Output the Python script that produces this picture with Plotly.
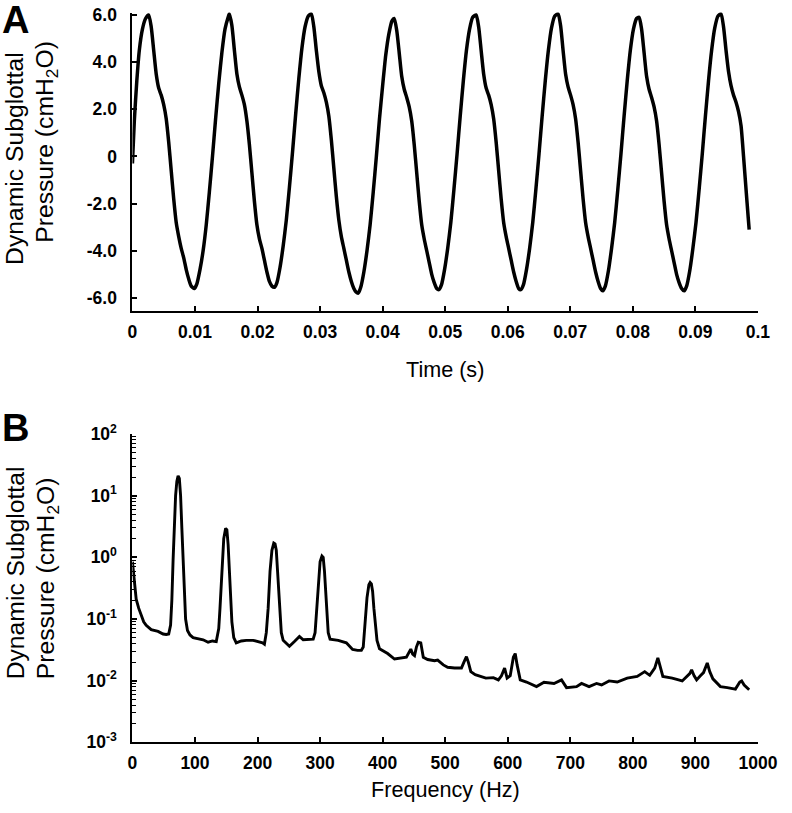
import plotly.graph_objects as go

# ---------------- Panel A: dynamic subglottal pressure vs time ----------------
time_s = [
    0.00000, 0.00030, 0.00070, 0.00110, 0.00160, 0.00210, 0.00260,
    0.00300, 0.00340, 0.00380, 0.00420, 0.00460, 0.00500, 0.00540, 0.00580, 0.00620, 0.00660,
    0.00700, 0.00740, 0.00780, 0.00820, 0.00860, 0.00900, 0.00940, 0.00990,
    0.01030, 0.01080, 0.01130, 0.01180, 0.01230, 0.01280, 0.01330, 0.01380, 0.01430, 0.01480, 0.01530, 0.01550,
    0.01590, 0.01630, 0.01670, 0.01710, 0.01750, 0.01790, 0.01830, 0.01870, 0.01910, 0.01950,
    0.01990, 0.02030, 0.02070, 0.02110, 0.02150, 0.02190, 0.02230, 0.02270,
    0.02310, 0.02360, 0.02410, 0.02460, 0.02510, 0.02560, 0.02610, 0.02660, 0.02710, 0.02760, 0.02810, 0.02860,
    0.02900, 0.02940, 0.02980, 0.03020, 0.03060, 0.03100, 0.03140, 0.03180, 0.03220, 0.03260,
    0.03300, 0.03340, 0.03380, 0.03420, 0.03460, 0.03500, 0.03540, 0.03575, 0.03610,
    0.03650, 0.03700, 0.03750, 0.03800, 0.03850, 0.03900, 0.03950, 0.04000, 0.04050, 0.04100, 0.04150, 0.04185,
    0.04225, 0.04265, 0.04305, 0.04345, 0.04385, 0.04425, 0.04465, 0.04505, 0.04545, 0.04585,
    0.04625, 0.04665, 0.04705, 0.04745, 0.04785, 0.04825, 0.04865, 0.04900,
    0.04940, 0.04990, 0.05040, 0.05090, 0.05140, 0.05190, 0.05240, 0.05290, 0.05340, 0.05390, 0.05440, 0.05495,
    0.05535, 0.05575, 0.05615, 0.05655, 0.05695, 0.05735, 0.05775, 0.05815, 0.05855, 0.05895,
    0.05935, 0.05975, 0.06015, 0.06055, 0.06095, 0.06135, 0.06175, 0.06210,
    0.06250, 0.06300, 0.06350, 0.06400, 0.06450, 0.06500, 0.06550, 0.06600, 0.06650, 0.06700, 0.06750, 0.06805,
    0.06845, 0.06885, 0.06925, 0.06965, 0.07005, 0.07045, 0.07085, 0.07125, 0.07165, 0.07205,
    0.07245, 0.07285, 0.07325, 0.07365, 0.07405, 0.07445, 0.07485, 0.07520,
    0.07560, 0.07610, 0.07660, 0.07710, 0.07760, 0.07810, 0.07860, 0.07910, 0.07960, 0.08010, 0.08060, 0.08100,
    0.08140, 0.08180, 0.08220, 0.08260, 0.08300, 0.08340, 0.08380, 0.08420, 0.08460, 0.08500,
    0.08540, 0.08580, 0.08620, 0.08660, 0.08700, 0.08740, 0.08780, 0.08820,
    0.08860, 0.08910, 0.08960, 0.09010, 0.09060, 0.09110, 0.09160, 0.09210, 0.09260, 0.09310, 0.09360, 0.09410,
    0.09450, 0.09490, 0.09530, 0.09570, 0.09610, 0.09650, 0.09690, 0.09730, 0.09770, 0.09810, 0.09845, 0.09860,
]
pressure_cmh2o = [
    -0.3, 1.5, 3.2, 4.5, 5.4, 5.85, 6.0,
    5.5, 4.5, 3.5, 2.9, 2.6, 2.2, 1.6, 0.6, -0.6, -1.8,
    -2.8, -3.4, -3.9, -4.3, -4.8, -5.2, -5.5, -5.6,
    -5.4, -4.8, -4.0, -2.9, -1.5, 0.0, 1.6, 3.1, 4.4, 5.4, 5.9, 6.05,
    5.55, 4.5, 3.5, 2.95, 2.6, 2.2, 1.5, 0.5, -0.7, -1.9,
    -2.9, -3.5, -3.9, -4.4, -4.9, -5.3, -5.5, -5.55,
    -5.35, -4.7, -3.8, -2.7, -1.3, 0.2, 1.8, 3.3, 4.6, 5.5, 5.95, 6.05,
    5.5, 4.5, 3.6, 3.0, 2.7, 2.3, 1.7, 0.7, -0.5, -1.7,
    -2.7, -3.4, -3.9, -4.4, -4.9, -5.3, -5.6, -5.75, -5.8,
    -5.55, -4.9, -4.0, -2.9, -1.5, 0.0, 1.6, 3.0, 4.3, 5.2, 5.75, 5.85,
    5.35, 4.4, 3.4, 2.85, 2.5, 2.1, 1.5, 0.5, -0.7, -1.9,
    -2.9, -3.5, -4.0, -4.5, -5.0, -5.35, -5.6, -5.65,
    -5.45, -4.8, -3.9, -2.8, -1.4, 0.1, 1.7, 3.2, 4.5, 5.4, 5.9, 6.0,
    5.5, 4.5, 3.5, 2.9, 2.6, 2.2, 1.6, 0.6, -0.6, -1.8,
    -2.8, -3.4, -3.9, -4.4, -4.9, -5.3, -5.6, -5.65,
    -5.45, -4.8, -3.9, -2.8, -1.4, 0.1, 1.7, 3.2, 4.5, 5.45, 5.95, 6.05,
    5.55, 4.5, 3.5, 2.95, 2.6, 2.2, 1.6, 0.6, -0.6, -1.8,
    -2.8, -3.4, -3.9, -4.4, -4.9, -5.3, -5.6, -5.7,
    -5.5, -4.85, -3.9, -2.8, -1.4, 0.1, 1.7, 3.2, 4.5, 5.4, 5.85, 5.9,
    5.4, 4.4, 3.4, 2.85, 2.5, 2.1, 1.5, 0.5, -0.7, -1.9,
    -2.9, -3.5, -4.0, -4.5, -5.0, -5.35, -5.6, -5.7,
    -5.5, -4.85, -3.9, -2.8, -1.4, 0.1, 1.7, 3.2, 4.5, 5.45, 5.95, 6.05,
    5.5, 4.5, 3.6, 3.0, 2.6, 2.3, 1.9, 1.3, 0.0, -1.4, -2.6, -3.1,
]

time_tickvals = [0, 0.01, 0.02, 0.03, 0.04, 0.05, 0.06, 0.07, 0.08, 0.09, 0.1]
time_ticktext = ["0", "0.01", "0.02", "0.03", "0.04", "0.05", "0.06", "0.07", "0.08", "0.09", "0.1"]
pressure_tickvals = [6, 4, 2, 0, -2, -4, -6]
pressure_ticktext = ["6.0", "4.0", "2.0", "0", "-2.0", "-4.0", "-6.0"]

# ---------------- Panel B: spectrum ----------------
freq_hz = [
    0, 3, 6, 10, 14, 18, 22, 30, 41, 49, 54, 58,
    61, 63, 65, 67, 69, 71, 73, 75, 77, 79, 81, 83, 85, 88, 92,
    97, 105, 113, 121, 128, 134,
    138, 140, 143, 146, 149, 151, 153, 155, 157, 159, 162,
    166, 174, 182, 193, 203, 208, 211,
    214, 217, 220, 223, 226, 228, 230, 232, 234, 236, 238, 241,
    251, 259, 267, 273, 281, 286, 289,
    292, 294, 297, 300, 303, 305, 307, 309, 311, 313, 316,
    329, 342, 352, 360, 366,
    369, 372, 375, 378, 380, 382, 384, 386, 388, 391, 395,
    408, 419, 430, 438, 445, 448, 451, 454, 457, 461, 465,
    472, 483, 488, 497, 504, 515, 526, 530, 534, 537, 541,
    548, 555, 565, 577, 585, 590, 595, 599, 604, 609, 612, 615, 620,
    630, 646, 658, 674, 686, 694, 710, 718, 730, 742, 750, 762, 775,
    791, 807, 819, 827, 835, 840, 844, 848, 863, 879, 891, 894, 898,
    902, 908, 913, 919, 923, 928, 940, 951, 964, 971, 974, 978, 986,
]
amplitude = [
    0.85, 0.4, 0.21, 0.15, 0.115, 0.09, 0.079, 0.067, 0.063, 0.057, 0.056, 0.057,
    0.08, 0.2, 0.9, 4.0, 10.0, 17.0, 21.0, 19.0, 10.0, 3.0, 1.0, 0.3, 0.1, 0.065, 0.055,
    0.05, 0.048, 0.046, 0.042, 0.044, 0.043,
    0.07, 0.15, 0.7, 2.0, 2.95, 2.8, 1.6, 0.6, 0.2, 0.09, 0.05,
    0.041, 0.044, 0.045, 0.045, 0.043, 0.041, 0.039,
    0.06, 0.15, 0.6, 1.3, 1.7, 1.65, 1.3, 0.6, 0.25, 0.1, 0.06, 0.045,
    0.036, 0.043, 0.052, 0.046, 0.047, 0.047, 0.047,
    0.06, 0.12, 0.4, 0.85, 1.05, 1.0, 0.6, 0.25, 0.1, 0.06, 0.047,
    0.045, 0.041, 0.032, 0.031, 0.031,
    0.035, 0.09, 0.22, 0.36, 0.39, 0.37, 0.28, 0.15, 0.08, 0.045, 0.033,
    0.0275, 0.0224, 0.023, 0.024, 0.0325, 0.027, 0.0255, 0.035, 0.042, 0.041, 0.024,
    0.022, 0.021, 0.0215, 0.018, 0.0165, 0.016, 0.016, 0.02, 0.0245, 0.02, 0.014,
    0.0125, 0.012, 0.011, 0.0112, 0.0103, 0.012, 0.016, 0.011, 0.012, 0.024, 0.0275, 0.018, 0.0103,
    0.0095, 0.008, 0.0094, 0.009, 0.0103, 0.0077, 0.008, 0.009, 0.008, 0.009, 0.0085, 0.0099, 0.0095,
    0.011, 0.0117, 0.014, 0.0122, 0.016, 0.0234, 0.016, 0.0117, 0.011, 0.0099, 0.013, 0.015, 0.012,
    0.0103, 0.012, 0.0135, 0.0194, 0.014, 0.0107, 0.008, 0.0077, 0.0073, 0.0095, 0.0099, 0.0085, 0.0071,
]

freq_tickvals = [0, 100, 200, 300, 400, 500, 600, 700, 800, 900, 1000]
freq_ticktext = ["0", "100", "200", "300", "400", "500", "600", "700", "800", "900", "1000"]
amp_tickvals = [1e-3, 1e-2, 1e-1, 1e0, 1e1, 1e2]
amp_ticktext = ["10<sup>-3</sup>", "10<sup>-2</sup>", "10<sup>-1</sup>", "10<sup>0</sup>",
                "10<sup>1</sup>", "10<sup>2</sup>"]

# ---------------- layout geometry ----------------
W, H = 792, 813
# the photographed page comes out slightly scaled/offset; map wanted image pixels to page pixels
S, OX, OY = 0.972, 3.8, 10.4


def fx(x):
    return ((x - OX) / S) / W


def fy(y):
    return (H - (y - OY) / S) / H


def fs(size):
    return round(size / S, 1)


X0, X1 = 131.7, 759.5
TOP_Y0, TOP_Y1 = 11, 309
BOT_Y0, BOT_Y1 = 432, 740

NARROW = "Liberation Sans Narrow, Arial Narrow, Liberation Sans, Arial, sans-serif"
SANS = "Liberation Sans, Arial, sans-serif"
tickfont = dict(family=NARROW, size=fs(17), color="black", weight="bold")

fig = go.Figure()
fig.add_trace(go.Scatter(x=time_s, y=pressure_cmh2o, mode="lines",
                         line=dict(color="black", width=3.5, shape="spline", smoothing=0.6),
                         xaxis="x", yaxis="y", showlegend=False, hoverinfo="skip"))
fig.add_trace(go.Scatter(x=freq_hz, y=amplitude, mode="lines",
                         line=dict(color="black", width=2.9),
                         xaxis="x2", yaxis="y2", showlegend=False, hoverinfo="skip"))
# invisible copy that carries the minor-tick log axis
fig.add_trace(go.Scatter(x=freq_hz, y=amplitude, mode="lines", opacity=0,
                         line=dict(color="black", width=0.1),
                         xaxis="x2", yaxis="y3", showlegend=False, hoverinfo="skip"))

axis_common = dict(showline=True, linecolor="black", linewidth=2, showgrid=False,
                   zeroline=False, ticks="inside", ticklen=5, tickwidth=2,
                   tickcolor="black", tickfont=tickfont, tickmode="array")

minor_vals = []
for e in [-3, -2, -1, 0, 1]:
    for k in range(2, 10):
        minor_vals.append(k * 10 ** e)

fig.update_layout(
    width=W, height=H,
    margin=dict(l=0, r=0, t=0, b=0),
    paper_bgcolor="white", plot_bgcolor="white",
    xaxis=dict(domain=[fx(X0), fx(X1)], range=[0, 0.1], anchor="y",
               tickvals=time_tickvals, ticktext=time_ticktext, ticklabelstandoff=4,
               **axis_common),
    yaxis=dict(domain=[fy(TOP_Y1), fy(TOP_Y0)], range=[-6.55, 6.1], anchor="x",
               tickvals=pressure_tickvals, ticktext=pressure_ticktext, ticklabelstandoff=10,
               **axis_common),
    xaxis2=dict(domain=[fx(X0), fx(X1)], range=[0, 1000], anchor="y2",
                tickvals=freq_tickvals, ticktext=freq_ticktext, ticklabelstandoff=4,
                **axis_common),
    yaxis2=dict(domain=[fy(BOT_Y1), fy(BOT_Y0)], type="log", range=[-3, 2], anchor="x2",
                tickvals=amp_tickvals, ticktext=amp_ticktext, ticklabelstandoff=10,
                **axis_common),
    yaxis3=dict(domain=[fy(BOT_Y1), fy(BOT_Y0)], type="log", range=[-3, 2], anchor="x2",
                overlaying="y2", side="left", showline=False, showgrid=False, zeroline=False,
                tickmode="array", tickvals=minor_vals, ticktext=[""] * len(minor_vals),
                ticks="inside", ticklen=4, tickwidth=1, tickcolor="black"),
)

TITLE_FONT = dict(family=SANS, size=fs(24), color="black")
annotations = [
    dict(text="<b>A</b>", x=fx(15), y=fy(18), font=dict(family=SANS, size=fs(37), color="black")),
    dict(text="<b>B</b>", x=fx(15), y=fy(426), font=dict(family=SANS, size=fs(37), color="black")),
    dict(text="Time (s)", x=fx((X0 + X1) / 2), y=fy(368),
         font=dict(family=NARROW, size=fs(21), color="black")),
    dict(text="Frequency (Hz)", x=fx((X0 + X1) / 2), y=fy(787),
         font=dict(family=NARROW, size=fs(21), color="black")),
    dict(text="Dynamic Subglottal", x=fx(14), y=fy(157), textangle=-90, font=TITLE_FONT),
    dict(text="Pressure (cmH<sub>2</sub>O)", x=fx(46), y=fy(140), textangle=-90, font=TITLE_FONT),
    dict(text="Dynamic Subglottal", x=fx(14), y=fy(571), textangle=-90, font=TITLE_FONT),
    dict(text="Pressure (cmH<sub>2</sub>O)", x=fx(46), y=fy(576), textangle=-90, font=TITLE_FONT),
]
for a in annotations:
    a.update(xref="paper", yref="paper", showarrow=False, xanchor="center", yanchor="middle")
fig.update_layout(annotations=annotations)

fig.write_html("out.html", config={"displayModeBar": False},
               post_script="document.body.style.margin='0';"
                           "document.documentElement.style.overflow='hidden';")
